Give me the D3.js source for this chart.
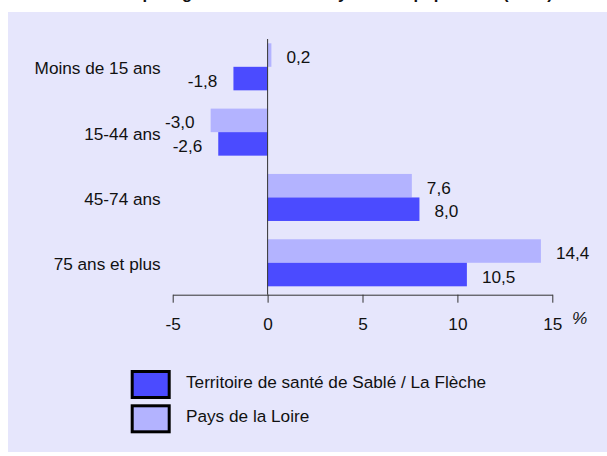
<!DOCTYPE html>
<html>
<head lang="fr">
  <meta charset="UTF-8">
<title>Evolution par age</title>
<script src="https://d3js.org/d3.v7.min.js"></script>
<style>
body { margin: 0; background: #fff; }
.txt { font-family: "Liberation Sans", Arial, sans-serif; font-size: 17.2px; fill: #111; }
.axis text { font-family: "Liberation Sans", Arial, sans-serif; font-size: 17.2px; fill: #111; }
</style>
</head>
<body>
<div id="vis"></div>
<script>

// data
var categories = ["Moins de 15 ans", "15-44 ans", "45-74 ans", "75 ans et plus"];
var territoire = [-1.8, -2.6, 8.0, 10.5];   // Territoire de santé de Sablé / La Flèche
var paysLoire  = [0.2, -3.0, 7.6, 14.4];    // Pays de la Loire
var tickVals   = [-5, 0, 5, 10, 15];
var seriesNames = ["Territoire de santé de Sablé / La Flèche", "Pays de la Loire"];

var width = 607, height = 456;
var dark = "#4b4bff", light = "#b3b3ff";

var svg = d3.select("#vis").append("svg")
  .attr("width", width)
  .attr("height", height);

// lavender panel
svg.append("rect")
  .attr("x", 8).attr("y", 12)
  .attr("width", width - 8).attr("height", 440)
  .attr("fill", "#e6e6fc");

// title (cut at the top in the original, only the bottom shows)
svg.append("text")
  .attr("class", "txt")
  .attr("x", 307.5).attr("y", -1)
  .attr("text-anchor", "middle")
  .style("font-weight", "bold")
  .style("font-size", "16.6px")
  .text("Évolution par âge : taux annuel moyen de la population (en %)");

var x = d3.scaleLinear().domain([-5, 15]).range([172.7, 552.3]);
var y = d3.scaleBand().domain(categories).range([43.3, 286.3]).paddingInner(0.28).paddingOuter(0);
var sub = d3.scaleBand().domain(["pays", "terr"]).range([0, y.bandwidth()]);

var rows = categories.map(function(c, i) {
  return {cat: c, pays: paysLoire[i], terr: territoire[i]};
});

var axisY = 294.7;

// bars
var g = svg.selectAll(".grp")
  .data(rows)
  .enter()
  .append("g").attr("class", "grp")
  .attr("transform", function(d) { return "translate(0," + y(d.cat) + ")"; });

["pays", "terr"].forEach(function(k) {
  g.append("rect")
    .attr("x", function(d) { return x(Math.min(0, d[k])); })
    .attr("y", sub(k))
    .attr("width", function(d) { return Math.abs(x(d[k]) - x(0)); })
    .attr("height", sub.bandwidth())
    .attr("fill", k == "pays" ? light : dark);

  g.append("text")
    .attr("class", "txt")
    .attr("x", function(d) { return d[k] < 0 ? x(d[k]) - 16 : x(d[k]) + 15; })
    .attr("y", sub(k) + sub.bandwidth() / 2 + 2)
    .attr("dy", "0.35em")
    .attr("text-anchor", function(d) { return d[k] < 0 ? "end" : "start"; })
    .text(function(d) { return d[k].toFixed(1).replace(".", ","); });
});

// category labels
svg.selectAll(".cat")
  .data(categories)
  .enter()
  .append("text")
  .attr("class", "txt cat")
  .attr("x", 160.7)
  .attr("y", function(d) { return y(d) + y.bandwidth() / 2 + 1.5; })
  .attr("dy", "0.35em")
  .attr("text-anchor", "end")
  .text(function(d) { return d; });

// zero line
svg.append("line")
  .attr("x1", x(0)).attr("x2", x(0))
  .attr("y1", 39).attr("y2", axisY)
  .attr("stroke", "#333").attr("stroke-width", 1);

// x axis
var axis = svg.append("g")
  .attr("class", "axis")
  .attr("transform", "translate(0," + axisY + ")")
  .call(d3.axisBottom(x)
    .tickValues(tickVals)
    .tickSize(8)
    .tickSizeOuter(0)
    .tickPadding(15)
    .tickFormat(function(d) { return String(d); }));
axis.selectAll("path, line").attr("stroke", "#333");

svg.append("text")
  .attr("class", "txt")
  .attr("x", 572).attr("y", 324)
  .style("font-style", "italic")
  .text("%");

// legend
var legend = svg.selectAll(".leg")
  .data([{name: seriesNames[0], col: dark}, {name: seriesNames[1], col: light}])
  .enter()
  .append("g").attr("class", "leg")
  .attr("transform", function(d, i) { return "translate(0," + (371.5 + i * 34.3) + ")"; });

legend.append("rect")
  .attr("x", 132.2).attr("y", 0)
  .attr("width", 37).attr("height", 26)
  .attr("fill", function(d) { return d.col; })
  .attr("stroke", "#000").attr("stroke-width", 3);

legend.append("text")
  .attr("class", "txt")
  .attr("x", 186).attr("y", 10.5)
  .attr("dy", "0.35em")
  .text(function(d) { return d.name; });

</script>
</body>
</html>
